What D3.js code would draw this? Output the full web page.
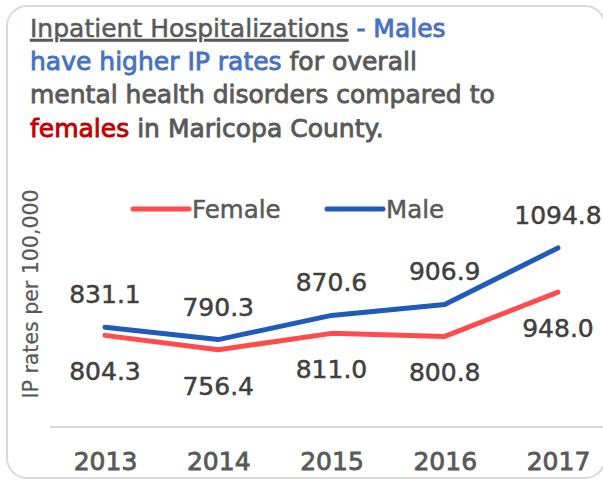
<!DOCTYPE html>
<html>
<head>
<meta charset="utf-8">
<script src="https://cdn.jsdelivr.net/npm/d3@7"></script>
<style>
  body { margin: 0; background: #fff; }
  svg { display: block; font-family: "DejaVu Sans", sans-serif; }
</style>
</head>
<body>
<svg id="chart" width="603" height="482"></svg>
<script>
// data
const years = ["2013", "2014", "2015", "2016", "2017"]
const female = [804.3, 756.4, 811.0, 800.8, 948.0]
const male = [831.1, 790.3, 870.6, 906.9, 1094.8]
const seriesNames = ["Female", "Male"]

const gray = "#595959"
const femaleColor = "#ff4b4b"
const maleColor = "#1f5bb9"

var svg = d3.select("#chart")

// outer rounded frame
svg.append("rect").attr("x", 7).attr("y", 6).attr("width", 598).attr("height", 472)
  .attr("rx", 20).attr("fill", "none").attr("stroke", "#d9d9d9").attr("stroke-width", 2)

// title (a thin stroke makes it look semi-bold)
var title = svg.append("text").attr("font-size", 25).attr("fill", gray)
  .attr("stroke", gray).attr("stroke-width", 0.85)
var l1 = title.append("tspan").attr("x", 30).attr("y", 37)
l1.append("tspan").text("Inpatient Hospitalizations").attr("text-decoration", "underline")
  .attr("stroke-width", 0.5)
l1.append("tspan").text(" - Males").attr("fill", "#4472c4").attr("stroke", "#4472c4")
var l2 = title.append("tspan").attr("x", 30).attr("y", 70)
l2.append("tspan").text("have higher IP rates").attr("fill", "#4472c4").attr("stroke", "#4472c4")
l2.append("tspan").text(" for overall")
title.append("tspan").attr("x", 30).attr("y", 103).text("mental health disorders compared to")
var l4 = title.append("tspan").attr("x", 30).attr("y", 137)
l4.append("tspan").text("females").attr("fill", "#c00000").attr("stroke", "#c00000")
l4.append("tspan").text(" in Maricopa County.")

var x = d3.scalePoint().domain(years).range([105, 558])
var y = d3.scaleLinear().domain([500, 1400]).range([427, 156])

// baseline + year labels
var xAxis = svg.append("g").attr("transform", "translate(0,427)")
  .call(d3.axisBottom(x).tickSize(0).tickPadding(25))
xAxis.select(".domain").attr("d", "M50,0H603").attr("stroke", "#d9d9d9").attr("stroke-width", 2)
xAxis.selectAll("text").attr("font-size", 25).attr("fill", gray)
  .attr("stroke", gray).attr("stroke-width", 0.8)
  .attr("font-family", "'DejaVu Sans', sans-serif")

// y axis title
svg.append("text").attr("transform", "translate(38,294) rotate(-90)")
  .attr("text-anchor", "middle").attr("font-size", 20.5).attr("fill", gray)
  .attr("stroke", gray).attr("stroke-width", 0.2)
  .text("IP rates per 100,000")

var line = d3.line().x((d, i) => x(years[i])).y(d => y(d))

svg.append("path").datum(female).attr("d", line).attr("fill", "none")
  .attr("stroke", femaleColor).attr("stroke-width", 5).attr("stroke-linecap", "round").attr("stroke-linejoin", "round")
svg.append("path").datum(male).attr("d", line).attr("fill", "none")
  .attr("stroke", maleColor).attr("stroke-width", 5).attr("stroke-linecap", "round").attr("stroke-linejoin", "round")

// value labels
svg.selectAll(".mlab").data(male).enter().append("text").attr("class", "mlab")
  .attr("x", (d, i) => x(years[i])).attr("y", d => y(d) - 24)
  .attr("text-anchor", "middle").attr("font-size", 25).attr("fill", "#404040")
  .attr("stroke", "#404040").attr("stroke-width", 0.5)
  .text(d => d.toFixed(1))
svg.selectAll(".flab").data(female).enter().append("text").attr("class", "flab")
  .attr("x", (d, i) => x(years[i])).attr("y", d => y(d) + 45)
  .attr("text-anchor", "middle").attr("font-size", 25).attr("fill", "#404040")
  .attr("stroke", "#404040").attr("stroke-width", 0.5)
  .text(d => d.toFixed(1))

// legend
var legendX = [133, 327]
var colors = [femaleColor, maleColor]
seriesNames.forEach(function(name, i) {
  var g = svg.append("g").attr("transform", "translate(" + legendX[i] + ",209)")
  g.append("line").attr("x1", 0).attr("x2", 56).attr("y1", 0).attr("y2", 0)
    .attr("stroke", colors[i]).attr("stroke-width", 5).attr("stroke-linecap", "round")
  g.append("text").attr("x", 59).attr("y", 9).attr("font-size", 24.5).attr("fill", gray)
    .attr("stroke", gray).attr("stroke-width", 0.5).text(name)
})
</script>
</body>
</html>
